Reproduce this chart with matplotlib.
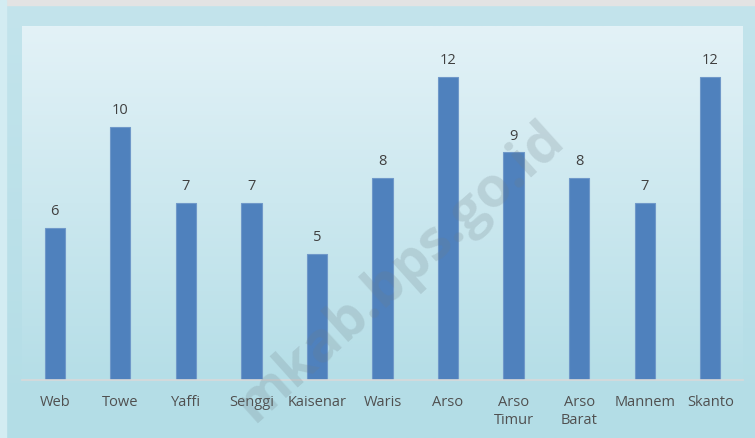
import numpy as np
import matplotlib.pyplot as plt
from matplotlib.colors import LinearSegmentedColormap

categories = ['Web', 'Towe', 'Yaffi', 'Senggi', 'Kaisenar', 'Waris', 'Arso',
              'Arso\nTimur', 'Arso\nBarat', 'Mannem', 'Skanto']
values = [6, 10, 7, 7, 5, 8, 12, 9, 8, 7, 12]

plt.rcParams['font.family'] = ['Open Sans', 'DejaVu Sans']

fig = plt.figure(figsize=(7.55, 4.38), dpi=100)

# outer background
bg = fig.add_axes([0, 0, 1, 1])
bg.set_axis_off()
outer = LinearSegmentedColormap.from_list('outer', ['#b3dde6', '#c3e4ec'])
bg.imshow(np.linspace(0, 1, 256).reshape(-1, 1), aspect='auto', cmap=outer,
          extent=[0, 1, 0, 1], origin='lower')
bg.axhspan(0.988, 1.0, color='#e3e3e3')
bg.axvspan(0, 0.008, color='#d3ecf2')
bg.set_xlim(0, 1)
bg.set_ylim(0, 1)

# plot area
left, right = 22 / 755, 743 / 755
bottom, top = 1 - 380 / 438, 1 - 26 / 438
ax = fig.add_axes([left, bottom, right - left, top - bottom])
inner = LinearSegmentedColormap.from_list('inner', ['#b5dee7', '#e3f2f7'])
ax.imshow(np.linspace(0, 1, 256).reshape(-1, 1), aspect='auto', cmap=inner,
          extent=[-0.5, len(categories) - 0.5, 0, 14], origin='lower', zorder=0)

x = np.arange(len(categories))
bars = ax.bar(x, values, width=0.31, color='#4f81bd', edgecolor='#6f98c9',
              linewidth=0.8, zorder=2)
for xi, v in zip(x, values):
    ax.text(xi, v + 0.35, str(v), ha='center', va='bottom', fontsize=10.5,
            color='#404040', zorder=3)

ax.set_xlim(-0.5, len(categories) - 0.5)
ax.set_ylim(0, 14)
ax.set_yticks([])
ax.set_xticks(x)
ax.set_xticklabels(categories, fontsize=10.5, color='#505050', linespacing=1.25)
ax.tick_params(axis='x', length=0, pad=11)
for s in ['top', 'right', 'left']:
    ax.spines[s].set_visible(False)
ax.spines['bottom'].set_color('#d9d9d9')
ax.spines['bottom'].set_linewidth(1.2)

# watermark
fig.text(0.53, 0.38, 'mkab.bps.go.id', rotation=42, ha='center', va='center',
         fontsize=40, fontweight='bold', color='#6f7f86', alpha=0.22, zorder=10)

fig.savefig('out.png', dpi=100)
